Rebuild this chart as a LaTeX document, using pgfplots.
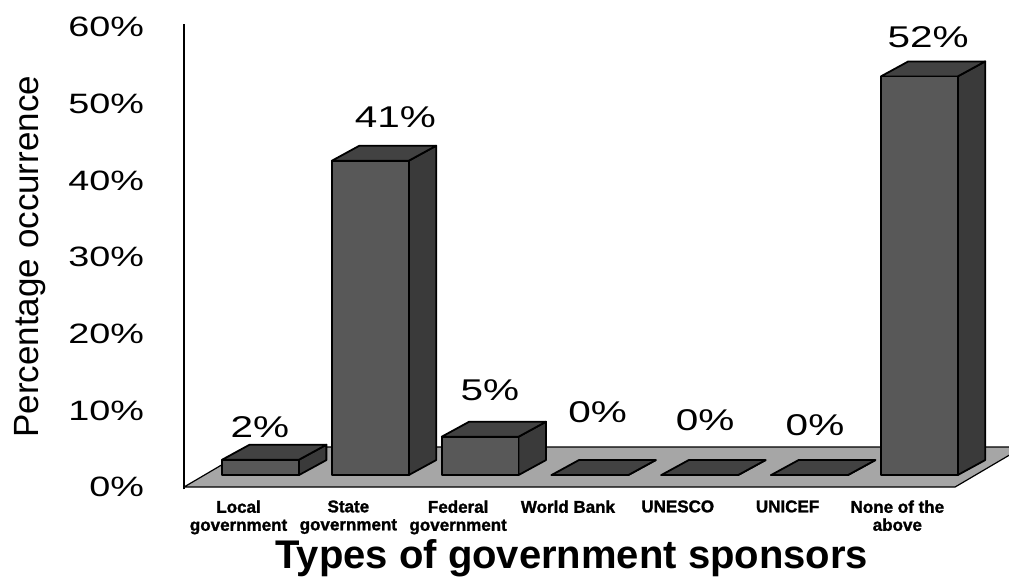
\documentclass[border=0pt]{standalone}
\usepackage{pgfplots}
\pgfplotsset{compat=1.18}
\usepackage{fontspec}
\setmainfont{Liberation Sans}
\newfontfamily\widefont[FakeStretch=1.35]{Liberation Sans}
\newfontfamily\catfont[FakeBold=1.5]{Liberation Sans Bold}
\definecolor{barfront}{HTML}{585858}
\definecolor{barside}{HTML}{3A3A3A}
\definecolor{bartop}{HTML}{424242}
\definecolor{floorc}{HTML}{A6A6A6}
\newcommand\threedbar[2]{%
  \pgfmathsetmacro\xl{#1-0.35}\pgfmathsetmacro\xr{#1+0.35}%
  \pgfmathsetmacro\yb{1.565}\pgfmathsetmacro\yt{1.565+#2}%
  \pgfmathsetmacro\xlb{\xl+0.25}\pgfmathsetmacro\xrb{\xr+0.25}%
  \pgfmathsetmacro\ybb{\yb+1.956}\pgfmathsetmacro\ytb{\yt+1.956}%
  \edef\tmp{%
    \noexpand\addplot[fill=barside,draw=black,line width=0.9pt,line join=round] coordinates {(\xr,\yb) (\xrb,\ybb) (\xrb,\ytb) (\xr,\yt)} -- cycle;
    \noexpand\addplot[fill=bartop,draw=black,line width=0.9pt,line join=round] coordinates {(\xl,\yt) (\xr,\yt) (\xrb,\ytb) (\xlb,\ytb)} -- cycle;
    \noexpand\addplot[fill=barfront,draw=black,line width=0.9pt,line join=round] coordinates {(\xl,\yb) (\xr,\yb) (\xr,\yt) (\xl,\yt)} -- cycle;
  }\tmp}
\begin{document}
\begin{tikzpicture}
\begin{axis}[
  x=54.9pt, y=3.8333pt,
  xmin=-0.697, xmax=6.817, ymin=-0.3, ymax=60.4,
  axis lines=left,
  axis line style={-},
  x axis line style={draw=none},
  y axis line style={line width=1.1pt},
  major tick length=0pt,
  ytick={0,10,20,30,40,50,60},
  yticklabel={\pgfmathprintnumber{\tick}\%},
  /pgf/number format/assume math mode=true,
  yticklabel style={font=\widefont\fontsize{14}{16}\selectfont, xshift=-16.5pt},
  xtick={-0.2,0.8,1.8,2.8,3.8,4.8,5.8},
  xticklabels={Local\\government, State\\government, Federal\\government, World Bank, UNESCO, UNICEF, None of the\\above},
  xticklabel style={align=center, font=\catfont\fontsize{8.5}{9}\selectfont, anchor=north, yshift=-2pt},
  ylabel={Percentage occurrence},
  ylabel style={at={(axis description cs:-0.187,0.5)}, anchor=center, font=\fontsize{17.5}{20}\selectfont},
  xlabel={Types of government sponsors},
  xlabel style={at={(axis description cs:0.470,-0.148)}, anchor=center, font=\fontsize{20}{24}\selectfont\bfseries},
  after end axis/.code={\path (axis description cs:-0.223,-0.1863) rectangle (axis description cs:1,1.0516);},
]
% floor
\addplot[fill=floorc, draw=black, line width=0.6pt] coordinates {(-0.697,0) (6.325,0) (6.945,5.22) (-0.077,5.22)} -- cycle;
% bars: index, value (%)
\threedbar{0}{2}
\threedbar{1}{41}
\threedbar{2}{5}
\threedbar{3}{0}
\threedbar{4}{0}
\threedbar{5}{0}
\threedbar{6}{52}
% value labels
\addplot[draw=none, mark=none, nodes near coords, point meta=explicit symbolic,
  nodes near coords style={anchor=center, font=\widefont\fontsize{15}{18}\selectfont}]
  table[meta=lab, row sep=\\] {
  x y lab\\
  -0.005 7.83 2\%\\
  1.229 48.24 41\%\\
  2.09 12.65 5\%\\
  3.07 9.78 0\%\\
  4.05 8.74 0\%\\
  5.05 8.09 0\%\\
  6.08 58.7 52\%\\
};
\end{axis}
\end{tikzpicture}
\end{document}
